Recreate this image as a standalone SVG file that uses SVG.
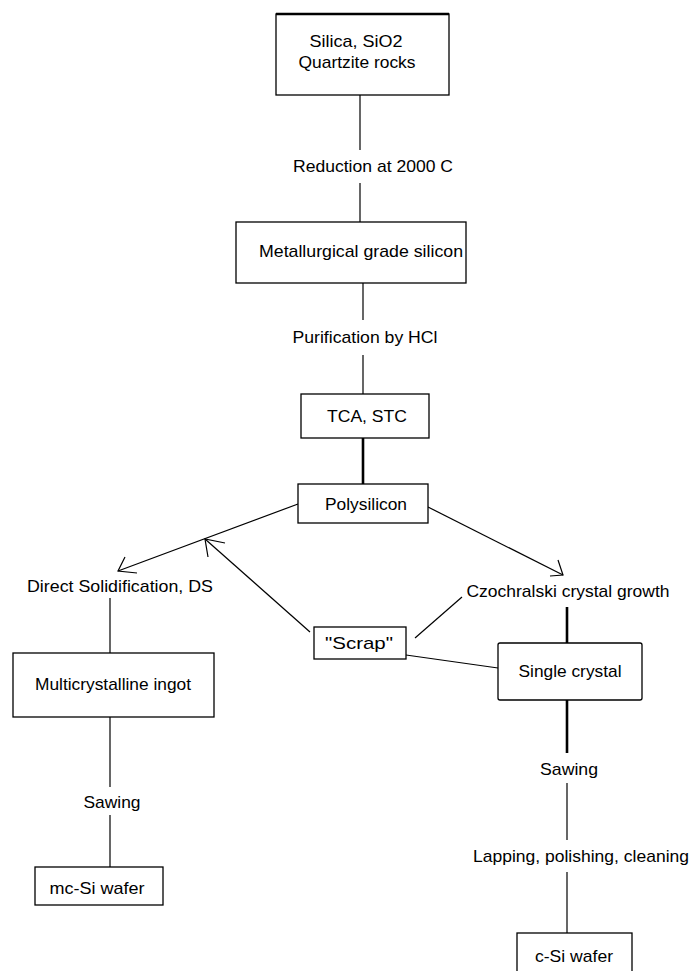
<svg xmlns="http://www.w3.org/2000/svg" width="690" height="971" viewBox="0 0 690 971">
<style>
.box{fill:#fff;stroke:#000;stroke-width:1.3}
.t{font-family:"Liberation Sans",Arial,sans-serif;font-size:17px;fill:#000;text-anchor:middle}
.ln{stroke:#000;stroke-width:1.2;fill:none}
.thick{stroke:#000;stroke-width:2.6;fill:none}
</style>
<rect width="690" height="971" fill="#fff"/>
<g id="connectors">
<line class="ln" x1="360" y1="95" x2="360" y2="150"/>
<line class="ln" x1="360" y1="183" x2="360" y2="222"/>
<line class="ln" x1="363" y1="283" x2="363" y2="320"/>
<line class="ln" x1="363" y1="355" x2="363" y2="394"/>
<line class="thick" x1="363" y1="438" x2="363" y2="484"/>
<polyline class="ln" points="298,504 118,571"/>
<polyline class="ln" points="125,557 118,571 137,573"/>
<polyline class="ln" points="428,507 563,575"/>
<polyline class="ln" points="558,560 563,575 550,576"/>
<polyline class="ln" points="310,632 205,539"/>
<polyline class="ln" points="225,543 205,539 208,557"/>
<polyline class="ln" points="462,597 415,638"/>
<polyline class="ln" points="406,655 498,668"/>
<line class="thick" x1="567" y1="607" x2="567" y2="643"/>
<line class="thick" x1="567" y1="700" x2="567" y2="753"/>
<line class="ln" x1="567" y1="783" x2="567" y2="840"/>
<line class="ln" x1="567" y1="872" x2="567" y2="933"/>
<line class="ln" x1="110" y1="598" x2="110" y2="653"/>
<line class="ln" x1="110" y1="717" x2="110" y2="787"/>
<line class="ln" x1="110" y1="815" x2="110" y2="867"/>
</g>
<g id="silica">
<rect class="box" x="276" y="14" width="173" height="81"/>
<line x1="276" y1="14" x2="449" y2="14" stroke="#000" stroke-width="2.4"/>
<text class="t" x="356" y="47" textLength="93" lengthAdjust="spacingAndGlyphs">Silica, SiO2</text>
<text class="t" x="357" y="68" textLength="117" lengthAdjust="spacingAndGlyphs">Quartzite rocks</text>
</g>
<g id="reduction"><text class="t" x="373" y="172" textLength="160" lengthAdjust="spacingAndGlyphs">Reduction at 2000 C</text></g>
<g id="mgsi">
<rect class="box" x="236" y="222" width="230" height="61"/>
<text class="t" x="361" y="257" textLength="204" lengthAdjust="spacingAndGlyphs">Metallurgical grade silicon</text>
</g>
<g id="purification"><text class="t" x="365" y="343" textLength="145" lengthAdjust="spacingAndGlyphs">Purification by HCl</text></g>
<g id="tca">
<rect class="box" x="301" y="394" width="128" height="44"/>
<text class="t" x="367" y="422" textLength="80" lengthAdjust="spacingAndGlyphs">TCA, STC</text>
</g>
<g id="polysilicon">
<rect class="box" x="298" y="484" width="130" height="39"/>
<text class="t" x="366" y="510" textLength="82" lengthAdjust="spacingAndGlyphs">Polysilicon</text>
</g>
<g id="ds"><text class="t" x="120" y="592" textLength="186" lengthAdjust="spacingAndGlyphs">Direct Solidification, DS</text></g>
<g id="cz"><text class="t" x="568" y="597" textLength="203" lengthAdjust="spacingAndGlyphs">Czochralski crystal growth</text></g>
<g id="scrap">
<rect class="box" x="314" y="627" width="92" height="32"/>
<text class="t" x="359" y="649" textLength="68" lengthAdjust="spacingAndGlyphs">"Scrap"</text>
</g>
<g id="single">
<rect class="box" x="498" y="643" width="144" height="57" rx="2"/>
<text class="t" x="570" y="677" textLength="103" lengthAdjust="spacingAndGlyphs">Single crystal</text>
</g>
<g id="mcingot">
<rect class="box" x="13" y="653" width="201" height="64"/>
<text class="t" x="113" y="690" textLength="156" lengthAdjust="spacingAndGlyphs">Multicrystalline ingot</text>
</g>
<g id="sawing-left"><text class="t" x="112" y="808" textLength="57" lengthAdjust="spacingAndGlyphs">Sawing</text></g>
<g id="mcwafer">
<rect class="box" x="35" y="867" width="128" height="38"/>
<text class="t" x="97" y="894" textLength="95" lengthAdjust="spacingAndGlyphs">mc-Si wafer</text>
</g>
<g id="sawing-right"><text class="t" x="569" y="775" textLength="58" lengthAdjust="spacingAndGlyphs">Sawing</text></g>
<g id="lapping"><text class="t" x="581" y="862" textLength="216" lengthAdjust="spacingAndGlyphs">Lapping, polishing, cleaning</text></g>
<g id="cwafer">
<rect class="box" x="517" y="933" width="115" height="50"/>
<text class="t" x="574" y="962" textLength="78" lengthAdjust="spacingAndGlyphs">c-Si wafer</text>
</g>
</svg>
